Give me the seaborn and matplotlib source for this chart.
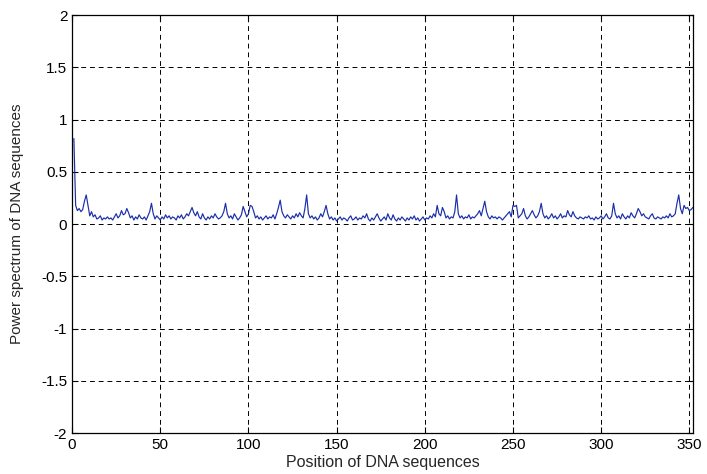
import numpy as np
import pandas as pd
import matplotlib
matplotlib.use("Agg")
import matplotlib.pyplot as plt
import seaborn as sns

# power spectrum values, positions 1..352
power = [
    0.82, 0.18, 0.13, 0.15, 0.12, 0.14, 0.22, 0.28, 0.18, 0.08, 0.12, 0.07, 0.09, 0.05, 0.06, 0.08, 0.04, 0.06, 0.05, 0.07,
    0.05, 0.06, 0.04, 0.07, 0.10, 0.06, 0.08, 0.13, 0.09, 0.10, 0.15, 0.11, 0.06, 0.08, 0.04, 0.07, 0.05, 0.09, 0.06, 0.05,
    0.07, 0.04, 0.08, 0.12, 0.20, 0.10, 0.05, 0.08, 0.06, 0.04, 0.07, 0.05, 0.09, 0.06, 0.08, 0.05, 0.07, 0.06, 0.04, 0.08,
    0.06, 0.09, 0.05, 0.07, 0.10, 0.08, 0.12, 0.16, 0.11, 0.08, 0.12, 0.07, 0.05, 0.10, 0.06, 0.04, 0.07, 0.05, 0.08, 0.06,
    0.10, 0.07, 0.05, 0.06, 0.08, 0.12, 0.20, 0.10, 0.06, 0.08, 0.05, 0.10, 0.07, 0.04, 0.06, 0.09, 0.17, 0.12, 0.07, 0.10,
    0.18, 0.17, 0.12, 0.06, 0.08, 0.05, 0.07, 0.04, 0.06, 0.08, 0.05, 0.07, 0.06, 0.09, 0.05, 0.10, 0.16, 0.23, 0.12, 0.08,
    0.06, 0.09, 0.07, 0.05, 0.08, 0.06, 0.10, 0.07, 0.11, 0.08, 0.06, 0.15, 0.28, 0.10, 0.06, 0.08, 0.05, 0.07, 0.04, 0.06,
    0.10, 0.07, 0.12, 0.18, 0.10, 0.05, 0.07, 0.04, 0.06, 0.03, 0.05, 0.07, 0.04, 0.06, 0.05, 0.03, 0.06, 0.08, 0.04, 0.05,
    0.07, 0.04, 0.06, 0.05, 0.08, 0.06, 0.10, 0.05, 0.03, 0.06, 0.04, 0.07, 0.10, 0.06, 0.03, 0.05, 0.07, 0.04, 0.10, 0.06,
    0.04, 0.09, 0.05, 0.03, 0.06, 0.04, 0.07, 0.05, 0.03, 0.06, 0.04, 0.07, 0.05, 0.08, 0.04, 0.06, 0.03, 0.05, 0.07, 0.04,
    0.06, 0.05, 0.08, 0.06, 0.10, 0.07, 0.18, 0.10, 0.08, 0.16, 0.12, 0.06, 0.08, 0.05, 0.07, 0.06, 0.12, 0.28, 0.10, 0.06,
    0.08, 0.05, 0.07, 0.06, 0.09, 0.05, 0.07, 0.06, 0.08, 0.10, 0.13, 0.08, 0.15, 0.22, 0.12, 0.07, 0.05, 0.08, 0.06, 0.07,
    0.05, 0.07, 0.06, 0.04, 0.06, 0.08, 0.10, 0.12, 0.07, 0.18, 0.17, 0.18, 0.06, 0.08, 0.10, 0.15, 0.08, 0.05, 0.07, 0.10,
    0.13, 0.09, 0.06, 0.08, 0.12, 0.20, 0.10, 0.06, 0.08, 0.05, 0.07, 0.10, 0.06, 0.08, 0.05, 0.07, 0.10, 0.06, 0.08, 0.07,
    0.13, 0.09, 0.07, 0.12, 0.08, 0.06, 0.05, 0.07, 0.06, 0.05, 0.07, 0.06, 0.08, 0.05, 0.06, 0.04, 0.07, 0.05, 0.06, 0.08,
    0.05, 0.07, 0.10, 0.06, 0.05, 0.08, 0.20, 0.10, 0.06, 0.08, 0.05, 0.10, 0.07, 0.05, 0.08, 0.06, 0.11, 0.08, 0.06, 0.10,
    0.15, 0.12, 0.08, 0.10, 0.07, 0.06, 0.05, 0.08, 0.10, 0.06, 0.05, 0.07, 0.06, 0.05, 0.07, 0.06, 0.08, 0.06, 0.10, 0.07,
    0.08, 0.10, 0.20, 0.28, 0.15, 0.10, 0.18, 0.15, 0.16, 0.13, 0.14, 0.16,
]
position = list(range(1, len(power) + 1))

x_ticks = [0, 50, 100, 150, 200, 250, 300, 350]
y_ticks = [-2, -1.5, -1, -0.5, 0, 0.5, 1, 1.5, 2]
y_labels = ["-2", "-1.5", "-1", "-0.5", "0", "0.5", "1", "1.5", "2"]

sns.set_style("white")
plt.rcParams['font.family'] = ['Liberation Sans', 'DejaVu Sans']
plt.rcParams['axes.unicode_minus'] = False

df = pd.DataFrame({"pos": position, "power": power})

fig = plt.figure(figsize=(7.07, 4.74), dpi=100)
ax = fig.add_axes([0.102, 0.086, 0.878, 0.882])
sns.lineplot(data=df, x="pos", y="power", color="#1a2ea8", linewidth=0.85, ax=ax)

ax.set_xlim(0, 352)
ax.set_ylim(-2, 2)
ax.set_xticks(x_ticks)
ax.set_yticks(y_ticks)
ax.set_yticklabels(y_labels)
ax.tick_params(direction="in", length=4, labelsize=11, colors="black",
               top=True, right=True, bottom=True, left=True)
ax.grid(True, color="black", linestyle=(0, (5, 4)), linewidth=0.7)
for s in ax.spines.values():
    s.set_color("black")
    s.set_linewidth(0.9)

ax.set_xlabel("Position of DNA sequences", fontsize=11.5, labelpad=2)
ax.set_ylabel("Power spectrum of DNA sequences", fontsize=11, labelpad=12)

fig.savefig("out.png", dpi=100)
